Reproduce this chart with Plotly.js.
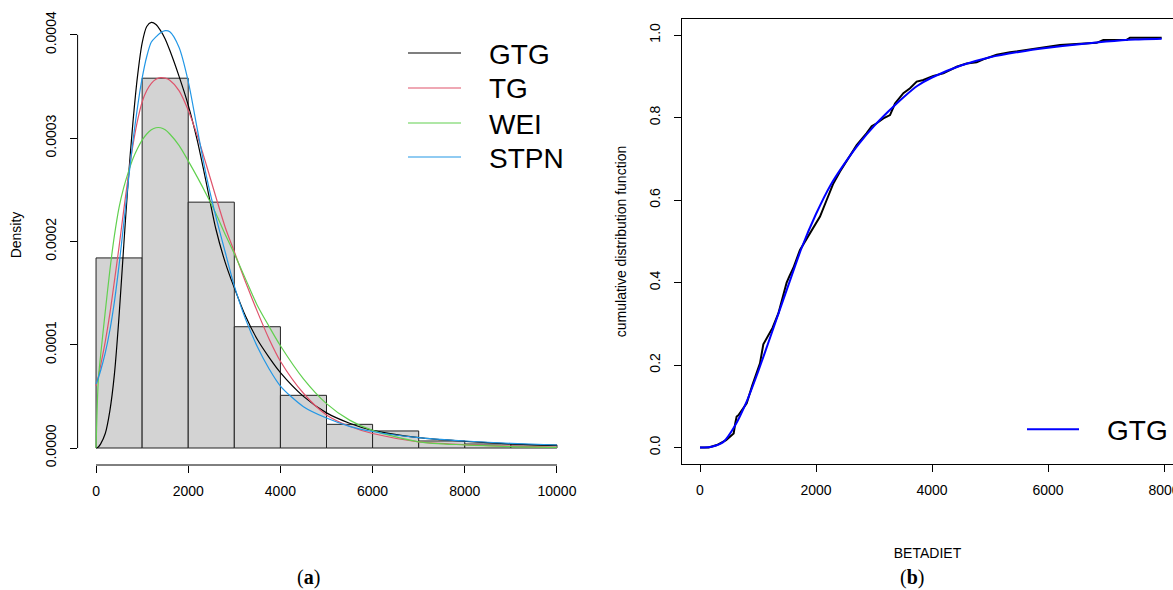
<!DOCTYPE html>
<html><head><meta charset="utf-8">
<script src="https://cdn.plot.ly/plotly-3.0.1.min.js"></script>
<style>html,body{margin:0;padding:0;background:#fff}#chart{width:1173px;height:590px}</style>
</head><body><div id="chart"></div>
<script>
// ---------------- data ----------------
const histBreaks  = [0,1000,2000,3000,4000,5000,6000,7000,8000,9000,10000];
const histDensity = [0.000184,0.000358,0.000238,0.0001174,0.000051,0.0000229,0.0000165,0.0000068,0.0000039,0.000003];

const densityX = [0,50,100,200,300,400,500,600,700,800,900,1000,1100,1200,1300,1400,1500,1600,1800,2000,2200,2400,2600,2800,3000,3250,3500,3750,4000,4500,5000,5500,6000,7000,8000,9000,10000];
const densityGTG  = [0,0.000001,0.000004,0.000014,0.000036,0.000072,0.000128,0.000195,0.00026,0.000315,0.00036,0.000392,0.000408,0.000412,0.00041,0.000404,0.000396,0.000385,0.00036,0.000332,0.000297,0.000255,0.000212,0.00018,0.000155,0.000127,0.000105,0.000088,0.000073,0.00005,0.000034,0.000024,0.000017,0.00001,0.0000065,0.000004,0.0000024];
const densityTG   = [0.00006,0.000069,0.00008,0.000103,0.00013,0.000162,0.000195,0.00023,0.000263,0.000293,0.000317,0.000335,0.000346,0.000353,0.000357,0.0003585,0.000358,0.000356,0.000346,0.000327,0.000302,0.000273,0.000243,0.000214,0.00019,0.00016,0.000132,0.000106,0.000084,0.000053,0.000032,0.000021,0.000014,0.000006,0.0000033,0.0000018,0.0000008];
const densityWEI  = [0,0.000066,0.00009,0.000132,0.000172,0.000206,0.000233,0.000252,0.000267,0.00028,0.00029,0.000298,0.000304,0.000308,0.00031,0.00031,0.000308,0.000304,0.000293,0.000278,0.000262,0.000245,0.000227,0.000207,0.000188,0.000163,0.000138,0.000118,0.000099,0.000067,0.000043,0.000027,0.000017,0.000006,0.000003,0.0000014,0.0000006];
const densitySTPN = [0.000062,0.000068,0.000075,0.000092,0.000114,0.000142,0.000177,0.000217,0.000258,0.000297,0.00033,0.000358,0.000379,0.000393,0.000398,0.000402,0.000404,0.000403,0.000388,0.000355,0.000308,0.000262,0.000224,0.00019,0.000157,0.000124,0.000098,0.000077,0.00006,0.00004,0.000029,0.000021,0.000016,0.00001,0.0000068,0.0000045,0.0000029];
const seriesNames  = ["GTG","TG","WEI","STPN"];
const seriesColors = ["#000000","#DF536B","#61D04F","#2297E6"];

const ecdfX = [0,150,290,450,550,580,610,632,661,750,805,900,1034,1092,1121,1250,1351,1437,1494,1540,1609,1724,1810,1897,2069,2184,2299,2414,2586,2701,2874,2960,3046,3161,3276,3362,3506,3621,3736,3851,4023,4195,4310,4425,4598,4770,4885,5115,5345,5862,6207,6839,6954,7357,7414,7960];
const ecdfY = [0,0,0.006,0.018,0.03,0.034,0.06,0.075,0.078,0.095,0.107,0.15,0.204,0.25,0.257,0.29,0.325,0.37,0.4,0.415,0.435,0.479,0.499,0.519,0.56,0.6,0.64,0.669,0.709,0.733,0.762,0.779,0.786,0.798,0.806,0.834,0.859,0.871,0.887,0.891,0.901,0.907,0.915,0.923,0.931,0.934,0.941,0.952,0.958,0.968,0.976,0.981,0.988,0.988,0.9935,0.9935];
const cdfX = [0,200,400,600,800,1000,1250,1500,1750,2000,2250,2500,2750,3000,3250,3500,3750,4000,4500,5000,5500,6000,6500,7000,7500,7960];
const cdfY = [0,0.002,0.013,0.052,0.11,0.183,0.283,0.384,0.483,0.566,0.636,0.69,0.738,0.779,0.815,0.848,0.877,0.897,0.926,0.946,0.959,0.969,0.977,0.984,0.989,0.991];
const cdfLegendName = "GTG";

const xTicksA = [0,2000,4000,6000,8000,10000];
const yTicksA = [0,0.0001,0.0002,0.0003,0.0004];
const xTicksB = [0,2000,4000,6000,8000];
const yTicksB = [0,0.2,0.4,0.6,0.8,1.0];

// ---------------- layout helpers ----------------
const W = 1173, H = 590;
const px = v => v / W;
const py = v => 1 - v / H;
const FONT = "Liberation Sans, Arial, Helvetica, sans-serif";

// ---------------- traces ----------------
const mids = histDensity.map((d, i) => (histBreaks[i] + histBreaks[i+1]) / 2);
const widths = histDensity.map((d, i) => histBreaks[i+1] - histBreaks[i]);
const traces = [{
  type: "bar", x: mids, y: histDensity, width: widths, xaxis: "x", yaxis: "y",
  marker: {color: "#D3D3D3", line: {color: "#222", width: 1}}, showlegend: false, hoverinfo: "skip"
}];
const dens = [densityGTG, densityTG, densityWEI, densitySTPN];
dens.forEach((d, i) => traces.push({
  type: "scatter", mode: "lines", x: densityX, y: d, name: seriesNames[i], xaxis: "x", yaxis: "y",
  line: {color: seriesColors[i], width: 1.2, shape: "spline", smoothing: 0.8}, showlegend: false
}));
traces.push({type: "scatter", mode: "lines", x: ecdfX, y: ecdfY, xaxis: "x2", yaxis: "y2",
  line: {color: "#000", width: 2}, showlegend: false, name: "empirical"});
traces.push({type: "scatter", mode: "lines", x: cdfX, y: cdfY, xaxis: "x2", yaxis: "y2",
  line: {color: "#0000FF", width: 2, shape: "spline", smoothing: 0.6}, showlegend: false, name: cdfLegendName});

// ---------------- layout ----------------
const shapes = [
  {type: "line", xref: "x", yref: "paper", x0: xTicksA[0], x1: xTicksA[xTicksA.length-1], y0: py(465), y1: py(465), line: {color: "#000", width: 1}},
  {type: "line", xref: "paper", yref: "y", x0: px(77.6), x1: px(77.6), y0: yTicksA[0], y1: yTicksA[yTicksA.length-1], line: {color: "#000", width: 1}}
];
const annotations = [];
const legendRows = [53, 88, 123, 157];
seriesNames.forEach((n, i) => {
  shapes.push({type: "line", xref: "paper", yref: "paper", x0: px(408), x1: px(461), y0: py(legendRows[i]), y1: py(legendRows[i]), line: {color: seriesColors[i], width: 1.2}});
  annotations.push({xref: "paper", yref: "paper", x: px(487), y: py(legendRows[i] + 1), xanchor: "left", yanchor: "middle", text: n, showarrow: false, font: {family: FONT, size: 28, color: "#000"}});
});
shapes.push({type: "line", xref: "paper", yref: "paper", x0: px(1027), x1: px(1079), y0: py(429.3), y1: py(429.3), line: {color: "#0000FF", width: 2}});
annotations.push({xref: "paper", yref: "paper", x: px(1105), y: py(430.3), xanchor: "left", yanchor: "middle", text: cdfLegendName, showarrow: false, font: {family: FONT, size: 28, color: "#000"}});
annotations.push({xref: "paper", yref: "paper", x: px(308), y: py(577), xanchor: "center", yanchor: "middle", text: "(<b>a</b>)", showarrow: false, font: {family: "Liberation Serif, Times New Roman, serif", size: 20, color: "#000"}});
annotations.push({xref: "paper", yref: "paper", x: px(912), y: py(577), xanchor: "center", yanchor: "middle", text: "(<b>b</b>)", showarrow: false, font: {family: "Liberation Serif, Times New Roman, serif", size: 20, color: "#000"}});

const axisCommon = {ticks: "outside", ticklen: 7, tickwidth: 1, tickcolor: "#000", showgrid: false, zeroline: false,
  tickfont: {family: FONT, size: 14, color: "#000"}};

const layout = {
  width: W, height: H, margin: {l: 0, r: 0, t: 0, b: 0}, paper_bgcolor: "#fff", plot_bgcolor: "rgba(0,0,0,0)",
  font: {family: FONT, size: 14, color: "#000"}, bargap: 0, showlegend: false,
  xaxis: Object.assign({}, axisCommon, {domain: [px(77.6), px(575.4)], range: [-400, 10400], anchor: "y",
    tickvals: xTicksA, tickformat: "d", showline: false, ticklabelstandoff: 6}),
  yaxis: Object.assign({}, axisCommon, {domain: [py(465), py(5)], range: [-1.6457e-5, 4.2885e-4], anchor: "x",
    tickvals: yTicksA, tickformat: ".4f", tickangle: -90, showline: false, ticklabelstandoff: 8,
    title: {text: "Density", font: {family: FONT, size: 14}, standoff: 18}}),
  xaxis2: Object.assign({}, axisCommon, {domain: [px(682), 1], range: [-310.3, 8155.2], anchor: "y2",
    tickvals: xTicksB, tickformat: "d", showline: true, mirror: true, linecolor: "#000", linewidth: 1, ticklabelstandoff: 6,
    ticklabeloverflow: "allow",
    title: {text: "BETADIET", font: {family: FONT, size: 14}, standoff: 51}}),
  yaxis2: Object.assign({}, axisCommon, {domain: [py(464), py(19)], range: [-0.04, 1.0388], anchor: "x2",
    tickvals: yTicksB, tickformat: ".1f", tickangle: -90, showline: true, linecolor: "#000", linewidth: 1, ticklabelstandoff: 8,
    title: {text: "cumulative distribution function", font: {family: FONT, size: 14}, standoff: 17}}),
  shapes: shapes, annotations: annotations
};

Plotly.newPlot("chart", traces, layout, {staticPlot: true, displayModeBar: false});
</script>
</body></html>
